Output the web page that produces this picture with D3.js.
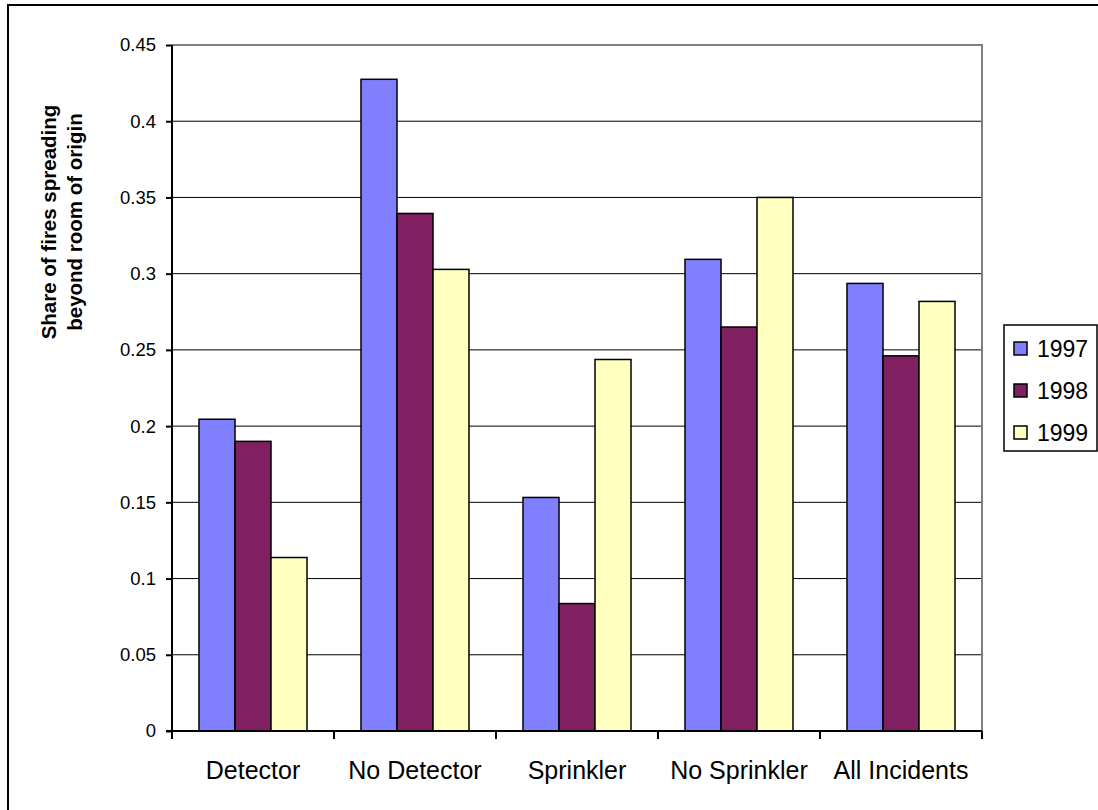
<!DOCTYPE html>
<html><head><meta charset="utf-8">
<script src="https://cdn.jsdelivr.net/npm/d3@7"></script>
<style>body{margin:0;background:#fff;}svg{display:block;font-family:Arial,"Liberation Sans",sans-serif;}</style>
</head><body><svg id="c" width="1098" height="810"></svg>
<script>
const categories = ["Detector","No Detector","Sprinkler","No Sprinkler","All Incidents"];
const seriesNames = ["1997","1998","1999"];
const v1997 = [0.2045, 0.4275, 0.1532, 0.3094, 0.2936];
const v1998 = [0.190, 0.3395, 0.0836, 0.265, 0.2461];
const v1999 = [0.1138, 0.3028, 0.2437, 0.350, 0.2818];
const yTicks = [0,0.05,0.1,0.15,0.2,0.25,0.3,0.35,0.4,0.45];
const yTickLabels = ["0","0.05","0.1","0.15","0.2","0.25","0.3","0.35","0.4","0.45"];
const colors = ["#8080FF","#802060","#FFFFC0"];
const series = [v1997, v1998, v1999];

const svg = d3.select("#c");
const L=172, R=982, T=45, B=731;
// outer border
svg.append("path").attr("d","M8,812V5H1100").attr("fill","none").attr("stroke","#000").attr("stroke-width",2);

const x = d3.scaleBand().domain(categories).range([L,R]).paddingInner(0).paddingOuter(0);
const y = d3.scaleLinear().domain([0,0.45]).range([B,T]);
const inner = d3.scaleBand().domain(seriesNames).range([x.bandwidth()/6, x.bandwidth()*5/6]);

// gridlines
svg.append("g").selectAll("line").data(yTicks.slice(1,-1)).join("line")
  .attr("x1",L).attr("x2",R).attr("y1",d=>y(d)).attr("y2",d=>y(d))
  .attr("stroke","#000").attr("stroke-width",1);
// plot border (gray top/right)
svg.append("path").attr("d",`M${L},${y(0.45)}H${R}V${B}`).attr("fill","none").attr("stroke","#808080").attr("stroke-width",2);

// bars
const g = svg.append("g");
series.forEach((vals,si)=>{
  g.selectAll(null).data(vals).join("rect")
    .attr("x",(d,i)=>x(categories[i])+inner(seriesNames[si]))
    .attr("width",inner.bandwidth())
    .attr("y",d=>y(d)).attr("height",d=>y(0)-y(d))
    .attr("fill",colors[si]).attr("stroke","#000").attr("stroke-width",1.5);
});

// y axis
const ya = d3.axisLeft(y).tickValues(yTicks).tickFormat((d,i)=>yTickLabels[i]).tickSize(6).tickPadding(10);
const yg = svg.append("g").attr("transform",`translate(${L},0)`).call(ya);
yg.select(".domain").attr("stroke","#000").attr("stroke-width",2).attr("d",`M0,${T}V${B}`);
yg.selectAll(".tick line").attr("stroke","#000").attr("stroke-width",2);
yg.selectAll("text").attr("font-size",18.5).attr("fill","#000").attr("font-family","Arial,'Liberation Sans',sans-serif");

// x axis
svg.append("line").attr("x1",L-6).attr("x2",R).attr("y1",B).attr("y2",B).attr("stroke","#000").attr("stroke-width",2);
svg.append("g").selectAll("line").data(d3.range(categories.length+1)).join("line")
  .attr("x1",i=>L+i*x.bandwidth()).attr("x2",i=>L+i*x.bandwidth())
  .attr("y1",B).attr("y2",B+8).attr("stroke","#000").attr("stroke-width",2);
svg.append("g").selectAll("text").data(categories).join("text")
  .attr("x",d=>x(d)+x.bandwidth()/2).attr("y",779)
  .attr("text-anchor","middle").attr("font-size",25).text(d=>d);

// y title
const yt = svg.append("text").attr("transform","translate(56,222) rotate(-90)")
  .attr("text-anchor","middle").attr("font-weight","bold").attr("font-size",20.5);
yt.append("tspan").attr("x",0).attr("dy",0).text("Share of fires spreading");
yt.append("tspan").attr("x",0).attr("dy",26).text("beyond room of origin");

// legend
const lg = svg.append("g");
lg.append("rect").attr("x",1004).attr("y",325).attr("width",93).attr("height",126)
  .attr("fill","#fff").attr("stroke","#000").attr("stroke-width",1.5);
seriesNames.forEach((s,i)=>{
  const cy = 348 + i*42;
  lg.append("rect").attr("x",1014).attr("y",cy-6).attr("width",13).attr("height",13)
    .attr("fill",colors[i]).attr("stroke","#000").attr("stroke-width",1.5);
  lg.append("text").attr("x",1037).attr("y",cy+8.5).attr("font-size",23).text(s);
});
</script></body></html>
